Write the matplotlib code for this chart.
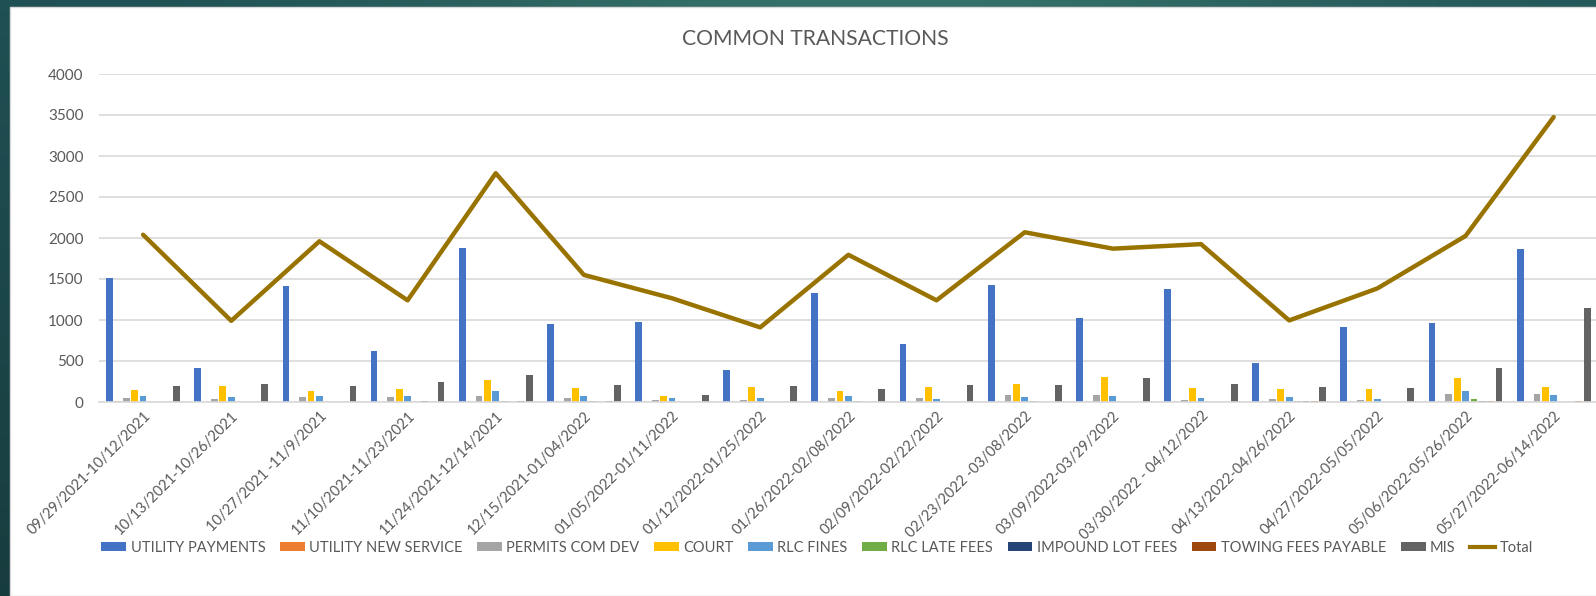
import numpy as np
import matplotlib
matplotlib.use('Agg')
import matplotlib.pyplot as plt
from matplotlib.patches import Rectangle, Patch
from matplotlib.lines import Line2D

plt.rcParams['font.family'] = ['Lato', 'DejaVu Sans']

# --- dados ---
periodos = ['09/29/2021-10/12/2021', '10/13/2021-10/26/2021', '10/27/2021 -11/9/2021',
            '11/10/2021-11/23/2021', '11/24/2021-12/14/2021', '12/15/2021-01/04/2022',
            '01/05/2022-01/11/2022', '01/12/2022-01/25/2022', '01/26/2022-02/08/2022',
            '02/09/2022-02/22/2022', '02/23/2022 -03/08/2022', '03/09/2022-03/29/2022',
            '03/30/2022 - 04/12/2022', '04/13/2022-04/26/2022', '04/27/2022-05/05/2022',
            '05/06/2022-05/26/2022', '05/27/2022-06/14/2022']

utility_payments = [1510, 420, 1420, 625, 1880, 955, 975, 390, 1330, 710, 1430, 1030, 1380, 475, 920, 960, 1870]
utility_new_service = [12, 0, 0, 0, 0, 0, 0, 0, 0, 0, 0, 0, 0, 0, 0, 0, 0]
permits_com_dev = [45, 35, 55, 55, 70, 50, 25, 25, 45, 45, 90, 90, 25, 35, 25, 100, 100]
court = [150, 200, 135, 160, 270, 170, 70, 185, 130, 185, 215, 300, 170, 160, 160, 290, 185]
rlc_fines = [70, 55, 70, 75, 130, 75, 45, 45, 70, 35, 55, 70, 45, 55, 35, 130, 90]
rlc_late_fees = [0, 0, 0, 0, 12, 12, 0, 0, 12, 0, 12, 0, 0, 10, 0, 35, 0]
impound_lot_fees = [0, 0, 0, 12, 0, 0, 0, 0, 0, 0, 0, 0, 0, 10, 0, 12, 0]
towing_fees = [0, 0, 0, 0, 12, 12, 0, 0, 0, 0, 0, 0, 0, 10, 0, 12, 12]
mis = [190, 220, 190, 240, 335, 210, 90, 200, 155, 210, 210, 295, 220, 185, 175, 420, 1145]
total = [2040, 990, 1960, 1240, 2790, 1550, 1265, 910, 1795, 1240, 2070, 1870, 1925, 995, 1385, 2025, 3475]

series = [
    ('UTILITY PAYMENTS', utility_payments, '#4472C4'),
    ('UTILITY NEW SERVICE', utility_new_service, '#ED7D31'),
    ('PERMITS COM DEV', permits_com_dev, '#A5A5A5'),
    ('COURT', court, '#FFC000'),
    ('RLC FINES', rlc_fines, '#5B9BD5'),
    ('RLC LATE FEES', rlc_late_fees, '#70AD47'),
    ('IMPOUND LOT FEES', impound_lot_fees, '#264478'),
    ('TOWING FEES PAYABLE', towing_fees, '#9E480E'),
    ('MIS', mis, '#636363'),
]

W, H = 1596, 596
fig = plt.figure(figsize=(W / 100, H / 100), dpi=100)

# --- fundo verde-azulado com gradiente ---
bg = fig.add_axes([0, 0, 1, 1], zorder=-10)
gx = np.linspace(0, 1, 200)
gy = np.linspace(0, 1, 100)
GX, GY = np.meshgrid(gx, gy)
c_esq = np.array([0x1f, 0x4f, 0x53]) / 255
c_meio = np.array([0x36, 0x72, 0x6a]) / 255
c_dir = np.array([0x22, 0x55, 0x58]) / 255
peso = np.exp(-((GX - 0.55) / 0.3) ** 2)[..., None]
img = c_esq * (1 - GX[..., None]) + c_dir * GX[..., None]
img = img * (1 - peso) + c_meio * peso
img = img * (1 - 0.25 * GY[..., None])
bg.imshow(img, aspect='auto', extent=[0, 1, 0, 1], origin='upper')
bg.set_xlim(0, 1)
bg.set_ylim(0, 1)
bg.axis('off')
bg.add_patch(Rectangle((10 / W, 0), 1, 1 - 7 / H, facecolor='white',
                       edgecolor='#d9d9d9', linewidth=1.0, transform=bg.transAxes))

# --- gráfico ---
ax = fig.add_axes([99 / W, 1 - 402 / H, 1 - 99 / W, (402 - 74) / H])
ax.set_facecolor('none')
x = np.arange(len(periodos))
pitch = 0.095
largura = 0.077
for i, (nome, valores, cor) in enumerate(series):
    ax.bar(x + (i - 4) * pitch, valores, width=largura, color=cor, zorder=2)
ax.plot(x, total, color='#997300', linewidth=3.2, zorder=3, solid_capstyle='round')

ax.set_ylim(0, 4000)
ax.set_xlim(-0.5, 16.48)
ax.set_yticks(range(0, 4001, 500))
ax.yaxis.grid(True, color='#d9d9d9', linewidth=1.2, zorder=0)
ax.set_axisbelow(True)
for s in ['top', 'right', 'left']:
    ax.spines[s].set_visible(False)
ax.spines['bottom'].set_color('#d9d9d9')
ax.spines['bottom'].set_linewidth(1.2)
ax.tick_params(axis='y', length=0, pad=11, labelsize=11, labelcolor='#595959')
ax.tick_params(axis='x', length=0, pad=5, labelsize=10.5, labelcolor='#595959')
ax.set_xticks(x)
ax.set_xticklabels(periodos, rotation=45, ha='right', rotation_mode='anchor')

fig.text(815 / W, 1 - 39 / H, 'COMMON TRANSACTIONS', ha='center', va='center',
         fontsize=15.2, color='#595959')

# --- legenda ---
handles = [Patch(facecolor=c, edgecolor='none') for _, _, c in series]
handles.append(Line2D([0], [0], color='#997300', linewidth=3))
labels = [n for n, _, _ in series] + ['Total']
fig.legend(handles, labels, loc='center', bbox_to_anchor=(817 / W, 1 - 548 / H), ncol=10,
           frameon=False, fontsize=10.5, labelcolor='#595959', handlelength=1.7,
           handleheight=0.55, handletextpad=0.3, columnspacing=1.0)

fig.savefig('out.png', dpi=100)
